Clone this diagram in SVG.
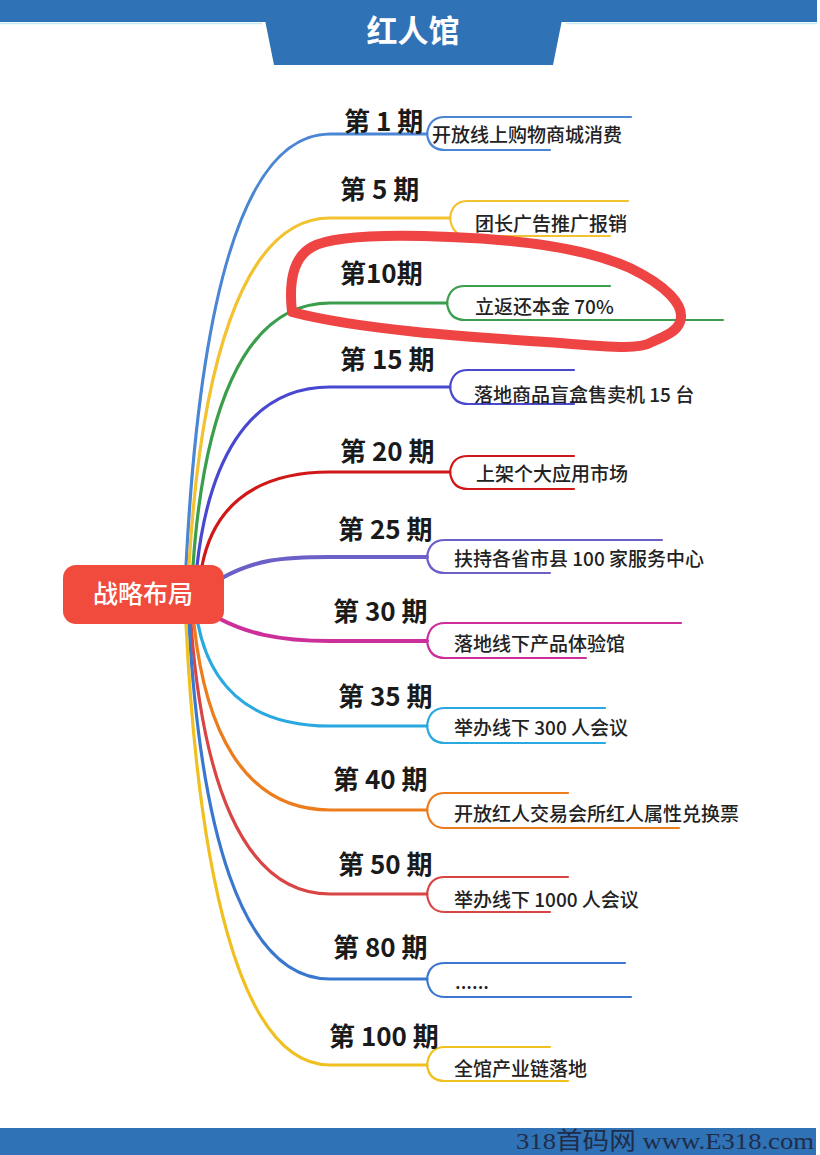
<svg xmlns="http://www.w3.org/2000/svg" width="820" height="1155" viewBox="0 0 820 1155">
<style>
.lbl{font-family:"Noto Sans CJK SC","Liberation Sans",sans-serif;font-weight:700;font-size:26px;fill:#1a1a1a}
.sub{font-family:"Noto Sans CJK SC","Liberation Sans",sans-serif;font-weight:500;font-size:19px;fill:#222}
.c{fill:none;stroke-width:3.2;stroke-linecap:round}
.f{fill:none;stroke-width:2.2;stroke-linecap:round}
</style>
<rect width="820" height="1155" fill="#fff"/>
<g id="header">
<rect x="0" y="0" width="817" height="22" fill="#2f72b6"/>
<line x1="0" y1="23.5" x2="262" y2="23.5" stroke="#c4e8f4" stroke-width="1.5"/>
<line x1="566" y1="23.5" x2="817" y2="23.5" stroke="#c4e8f4" stroke-width="1.5"/>
<polygon points="261,0 566,0 553,65 274,65" fill="#2f72b6"/>
<text x="413" y="42" text-anchor="middle" font-family="Noto Sans CJK SC,Liberation Sans,sans-serif" font-weight="700" font-size="31" fill="#fff">红人馆</text>
</g>
<g id="connectors">
<path class="c" stroke="#4a86d4" d="M186 566 C198 330,235 134,330 134 L427 134"/>
<path class="f" stroke="#4a86d4" d="M427 134 Q429 117,445 117 L631 117 M427 134 Q429 150,445 150 L550 150"/>
<path class="c" stroke="#f2c230" d="M189 566 C200 375,240 218,330 218 L450 218"/>
<path class="f" stroke="#f2c230" d="M450 218 Q452 201,468 201 L628 201 M450 218 Q452 236,468 236 L610 236"/>
<path class="c" stroke="#3a9e4c" d="M193 566 C203 420,240 303,330 303 L447 303"/>
<path class="f" stroke="#3a9e4c" d="M447 303 Q449 286,465 286 L610 286 M447 303 Q449 320,465 320 L723 320"/>
<path class="c" stroke="#4848d0" d="M197 566 C208 467,245 387,330 387 L450 387"/>
<path class="f" stroke="#4848d0" d="M450 387 Q452 370,468 370 L574 370 M450 387 Q452 404,468 404 L574 404"/>
<path class="c" stroke="#d01818" d="M202 566 C212 514,247 472,330 472 L450 472"/>
<path class="f" stroke="#d01818" d="M450 472 Q452 456,468 456 L574 456 M450 472 Q452 489,468 489 L574 489"/>
<path class="c" stroke="#6b5fc8" d="M222 578 C255 560,280 557,330 557 L427 557" style="stroke-width:4"/>
<path class="f" stroke="#6b5fc8" d="M427 557 Q429 540,445 540 L662 540 M427 557 Q429 573,445 573 L550 573"/>
<path class="c" stroke="#cc2e9a" d="M220 619 C245 632,275 641,330 641 L427 641" style="stroke-width:4"/>
<path class="f" stroke="#cc2e9a" d="M427 641 Q429 623,445 623 L681 623 M427 641 Q429 658,445 658 L586 658"/>
<path class="c" stroke="#2aa8e0" d="M198 624 C209 680,244 726,330 726 L427 726"/>
<path class="f" stroke="#2aa8e0" d="M427 726 Q429 708,445 708 L605 708 M427 726 Q429 743,445 743 L605 743"/>
<path class="c" stroke="#ec7c1c" d="M194 624 C205 727,242 810,330 810 L427 810"/>
<path class="f" stroke="#ec7c1c" d="M427 810 Q429 793,445 793 L568 793 M427 810 Q429 828,445 828 L679 828"/>
<path class="c" stroke="#d94545" d="M191 624 C202 774,240 894,330 894 L427 894"/>
<path class="f" stroke="#d94545" d="M427 894 Q429 877,445 877 L568 877 M427 894 Q429 912,445 912 L550 912"/>
<path class="c" stroke="#3a78d0" d="M189 624 C200 822,239 979,330 979 L427 979"/>
<path class="f" stroke="#3a78d0" d="M427 979 Q429 963,445 963 L625 963 M427 979 Q429 997,445 997 L631 997"/>
<path class="c" stroke="#f0c020" d="M186 624 C198 867,238 1065,330 1065 L427 1065"/>
<path class="f" stroke="#f0c020" d="M427 1065 Q429 1047,445 1047 L550 1047 M427 1065 Q429 1081,445 1081 L568 1081"/>
</g>
<g id="center">
<rect x="63" y="565" width="161" height="59" rx="13" fill="#f04b3c"/>
<text x="143" y="603" text-anchor="middle" font-family="Noto Sans CJK SC,Liberation Sans,sans-serif" font-weight="500" font-size="25" fill="#fff">战略布局</text>
</g>
<g id="n1"><text class="lbl" x="344" y="131">第 1 期</text><text class="sub" x="432" y="142">开放线上购物商城消费</text></g>
<g id="n5"><text class="lbl" x="340" y="199">第 5 期</text><text class="sub" x="475" y="231">团长广告推广报销</text></g>
<g id="n10"><text class="lbl" x="340" y="283">第10期</text><text class="sub" x="475" y="314">立返还本金 70%</text></g>
<g id="n15"><text class="lbl" x="340" y="369">第 15 期</text><text class="sub" x="474" y="402">落地商品盲盒售卖机 15 台</text></g>
<g id="n20"><text class="lbl" x="340" y="461">第 20 期</text><text class="sub" x="476" y="481">上架个大应用市场</text></g>
<g id="n25"><text class="lbl" x="338" y="539">第 25 期</text><text class="sub" x="454" y="566">扶持各省市县 100 家服务中心</text></g>
<g id="n30"><text class="lbl" x="333" y="621">第 30 期</text><text class="sub" x="454" y="651">落地线下产品体验馆</text></g>
<g id="n35"><text class="lbl" x="338" y="706">第 35 期</text><text class="sub" x="454" y="735">举办线下 300 人会议</text></g>
<g id="n40"><text class="lbl" x="333" y="789">第 40 期</text><text class="sub" x="454" y="821">开放红人交易会所红人属性兑换票</text></g>
<g id="n50"><text class="lbl" x="338" y="874">第 50 期</text><text class="sub" x="454" y="907">举办线下 1000 人会议</text></g>
<g id="n80"><text class="lbl" x="333" y="957">第 80 期</text><text class="sub" x="455" y="989">......</text></g>
<g id="n100"><text class="lbl" x="329" y="1046">第 100 期</text><text class="sub" x="454" y="1076">全馆产业链落地</text></g>
<g id="highlight">
<path d="M292 312 C289 285,292 258,312 247 C330 237,380 234,450 237 C530 240,590 250,630 268 C665 285,686 305,680 322 C676 333,662 337,652 342 C640 349,620 348,560 343 C470 337,360 330,292 312 Z" fill="none" stroke="#ee4444" stroke-width="10" stroke-linejoin="round"/>
</g>
<g id="footer">
<rect x="0" y="1128" width="816" height="27" fill="#2f72b6"/>
<text x="516" y="1149" font-family="Liberation Serif,Noto Sans CJK SC,serif" font-size="24" fill="#1f2d48" textLength="298" lengthAdjust="spacingAndGlyphs">318首码网 www.E318.com</text>
</g>
</svg>
